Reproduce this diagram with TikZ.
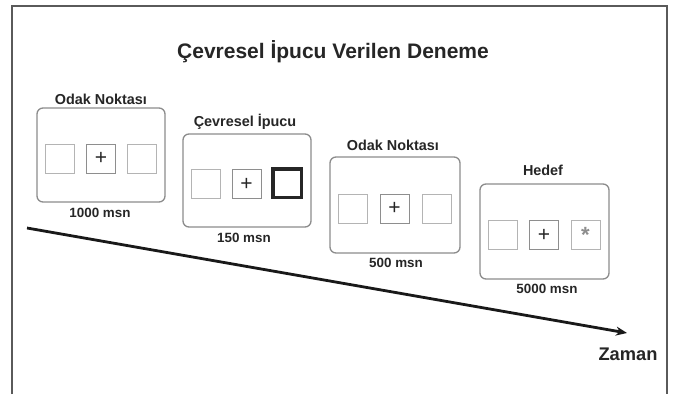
\documentclass[tikz,border=0pt]{standalone}
\usepackage{fontspec}
\setmainfont{Liberation Sans}
\usetikzlibrary{arrows.meta}
\definecolor{frame}{HTML}{5A5A5A}
\definecolor{scr}{HTML}{8C8C8C}
\definecolor{sqlight}{HTML}{B4B4B4}
\definecolor{sqmid}{HTML}{8E8E8E}
\definecolor{txt}{HTML}{262626}
\tikzset{
  screen/.style={draw=scr, line width=1.3pt, rounded corners=6pt, minimum width=#1, minimum height=95pt, inner sep=0pt},
  side/.style={draw=sqlight, line width=1pt, minimum size=29pt, inner sep=0pt},
  mid/.style={draw=sqmid, line width=1pt, minimum size=29pt, inner sep=0pt, text=txt, font=\fontsize{21}{21}\selectfont},
  cue/.style={draw=txt, line width=3.5pt, minimum size=28.5pt, inner sep=0pt},
  lbl/.style={text=txt, inner sep=0pt, font=\fontsize{14.4}{16}\selectfont\bfseries},
  dur/.style={text=txt, inner sep=0pt, font=\fontsize{13.4}{15}\selectfont\bfseries},
}
\begin{document}
\begin{tikzpicture}[x=1pt,y=-1pt]
\useasboundingbox (0,0) rectangle (675,394);
\fill[white] (0,0) rectangle (675,394);
% outer frame (open at the bottom)
\draw[frame, line width=1.3pt] (12,394) -- (12,6) -- (667,6) -- (667,394);
% title
\node[text=txt, inner sep=0pt, font=\fontsize{21}{24}\selectfont\bfseries] (title) at (333,52) {Çevresel İpucu Verilen Deneme};

% screen 1
\node[screen=128pt, minimum height=94pt] (s1) at (101,155) {};
\node[side] (s1a) at (59.5,158.5) {};
\node[mid] (s1b) at (101,158.5) {+};
\node[side] (s1c) at (141.5,158.5) {};
\node[lbl] (l1) at (101,99) {Odak Noktası};
\node[dur] (d1) at (100,213) {1000 msn};

% screen 2
\node[screen=128pt, minimum height=93pt] (s2) at (247,180.5) {};
\node[side] (s2a) at (205.5,184) {};
\node[mid] (s2b) at (246.5,184) {+};
\node[cue] (s2c) at (287,183) {};
\node[lbl] (l2) at (245,122) {Çevresel İpucu};
\node[dur] (d2) at (244,238) {150 msn};

% screen 3
\node[screen=130pt, minimum height=96pt] (s3) at (395,205) {};
\node[side] (s3a) at (352.5,208.5) {};
\node[mid] (s3b) at (394.5,208.5) {+};
\node[side] (s3c) at (436.5,208.5) {};
\node[lbl] (l3) at (393,145) {Odak Noktası};
\node[dur] (d3) at (396,263) {500 msn};

% screen 4
\node[screen=129pt, minimum height=95pt] (s4) at (544.5,231.5) {};
\node[side] (s4a) at (502.5,235) {};
\node[mid] (s4b) at (544,235) {+};
\node[side, text=sqmid, font=\fontsize{22}{22}\selectfont\bfseries] (s4c) at (585.5,235) {\raisebox{-0.3em}{*}};
\node[lbl] (l4) at (543,170) {Hedef};
\node[dur] (d4) at (547,289) {5000 msn};

% time arrow
\coordinate (t0) at (27,228);
\coordinate (t1) at (627,333);
\draw[black!90, line width=2.8pt, -{Stealth[length=11pt,width=9pt]}] (t0) -- (t1);
\node[text=txt, inner sep=0pt, font=\fontsize{18.3}{20}\selectfont\bfseries] (zaman) at (628,354) {Zaman};
\end{tikzpicture}
\end{document}
